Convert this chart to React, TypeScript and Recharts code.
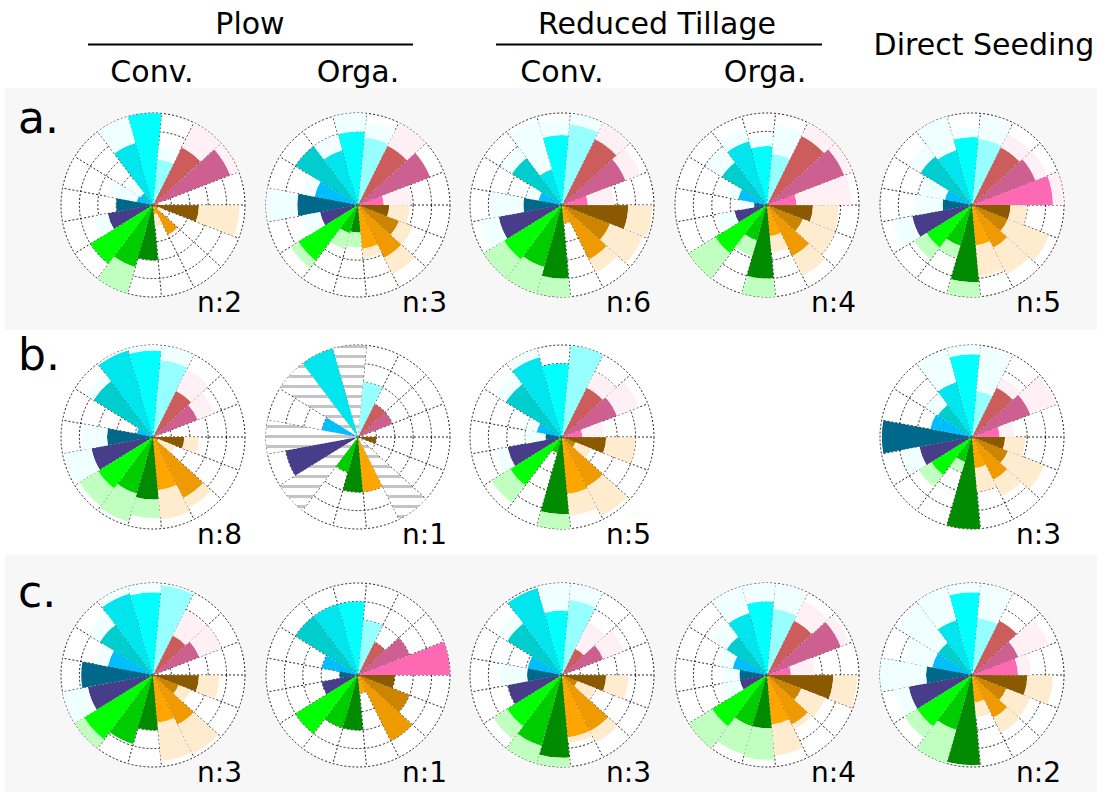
import { RadialBarChart, RadialBar, PolarAngleAxis, PolarRadiusAxis, PolarGrid, Cell } from 'recharts';

// 17 sectors, counter-clockwise from east
const sectors = ['S1', 'S2', 'S3', 'S4', 'S5', 'S6', 'S7', 'S8', 'S9', 'S10', 'S11', 'S12', 'S13', 'S14', 'S15', 'S16', 'S17'];

const strongColors = [
  '#ff69b4', '#cd6090', '#cd5c5c', '#97ffff', '#00ffff', '#00e5ee', '#00cdcd', '#00bfff', '#00688b',
  '#483d8b', '#00ff00', '#00cd00', '#008b00', '#ffa500', '#ee9a00', '#cd8500', '#8b5a00',
];
const paleColors = [
  '#fff0f5', '#fff0f5', '#fff0f5', '#f0ffff', '#f0ffff', '#f0ffff', '#f0ffff', '#f0ffff', '#f0ffff',
  '#f0ffff', '#c1ffc1', '#c1ffc1', '#c1ffc1', '#ffebcd', '#ffebcd', '#ffebcd', '#ffebcd',
];

// a. row
const aPlowConv = [0.3, 4.5, 3.5, 2.5, 5.0, 3.5, 0.8, 0.9, 2.0, 2.5, 4.0, 3.5, 3.0, 0.5, 1.8, 0.3, 2.5];
const aPlowConvHigh = [0.6, 5.3, 5.3, 3.2, 5.0, 5.5, 1.7, 2.5, 2.0, 3.3, 4.0, 5.5, 3.0, 1.2, 1.8, 0.6, 4.7];
const aPlowOrga = [1.4, 4.2, 3.6, 3.7, 4.0, 3.1, 4.0, 2.4, 3.3, 2.1, 3.8, 1.6, 1.5, 2.4, 3.2, 2.4, 1.7];
const aPlowOrgaHigh = [2.9, 4.2, 5.3, 4.5, 5.0, 4.0, 4.0, 3.1, 5.5, 3.1, 4.3, 2.5, 2.3, 2.9, 4.2, 3.2, 2.8];
const aRtConv = [1.4, 3.7, 4.0, 4.4, 3.8, 2.0, 3.2, 1.3, 2.1, 3.5, 3.7, 3.5, 4.0, 1.0, 3.3, 2.8, 3.6];
const aRtConvHigh = [2.8, 4.6, 5.1, 5.0, 4.6, 4.8, 3.9, 2.0, 3.9, 4.5, 5.2, 5.3, 5.1, 1.0, 4.1, 4.7, 4.9];
const aRtOrga = [1.6, 4.5, 4.2, 2.8, 3.2, 3.6, 2.9, 1.6, 0.7, 1.8, 3.3, 2.0, 4.0, 1.7, 3.1, 2.1, 2.5];
const aRtOrgaHigh = [4.6, 5.2, 5.3, 4.4, 3.7, 4.3, 3.9, 2.2, 1.5, 2.8, 5.0, 2.9, 5.1, 2.6, 4.3, 4.0, 3.9];
const aDirect = [4.4, 3.7, 3.5, 3.6, 3.7, 3.1, 3.3, 1.5, 1.6, 3.3, 2.9, 2.3, 4.2, 2.2, 2.6, 2.1, 2.1];
const aDirectHigh = [5.7, 4.4, 4.3, 4.8, 4.2, 5.1, 4.1, 2.8, 3.1, 4.4, 3.7, 3.0, 5.3, 3.9, 4.2, 4.5, 3.0];

// b. row
const bPlowConv = [0.2, 2.6, 2.8, 4.2, 4.7, 4.9, 3.8, 0.9, 2.5, 3.4, 3.5, 3.2, 3.4, 2.9, 3.7, 0.3, 1.7];
const bPlowConvHigh = [0.3, 3.6, 4.1, 5.5, 5.2, 5.3, 4.3, 0.9, 3.8, 4.9, 4.7, 4.8, 4.4, 4.5, 4.3, 1.3, 2.5];
const bPlowOrga = [0, 2, 2, 3, 0, 5, 0, 2, 0, 4, 0, 2, 3, 3, 0, 0, 1];
const bPlowOrgaMissing = [0, 0, 0, 0, 5, 0, 5, 0, 5, 0, 5, 0, 0, 0, 5, 0, 0];
const bRtConv = [1.1, 3.2, 3.0, 5.2, 4.0, 4.5, 3.6, 1.4, 0.9, 3.0, 3.3, 0.9, 4.2, 3.1, 3.0, 0.8, 2.4];
const bRtConvHigh = [2.3, 4.5, 4.0, 5.6, 4.0, 5.3, 4.3, 2.0, 2.0, 3.7, 4.5, 0.9, 5.2, 4.3, 4.8, 1.7, 4.0];
const bDirect = [1.5, 3.4, 3.0, 2.5, 4.5, 3.1, 2.2, 2.3, 4.9, 2.9, 2.6, 1.4, 5.0, 1.7, 2.6, 2.1, 1.8];
const bDirectHigh = [2.3, 4.9, 3.6, 4.9, 5.2, 4.9, 3.0, 2.3, 4.9, 3.9, 3.4, 2.0, 5.0, 3.0, 3.6, 4.2, 2.9];

// c. row
const cPlowConv = [0.1, 2.7, 2.4, 4.9, 4.5, 4.6, 3.4, 2.5, 3.9, 3.6, 4.4, 3.9, 3.0, 2.6, 3.0, 1.5, 2.5];
const cPlowConvHigh = [0.1, 4.0, 3.9, 5.5, 5.2, 5.2, 4.2, 3.2, 3.9, 5.0, 5.1, 3.9, 3.0, 4.7, 4.8, 2.2, 3.6];
const cPlowOrga = [5, 3, 2, 3, 4, 4, 4, 2, 1, 2, 4, 3, 3, 1, 4, 3, 2];
const cRtConv = [0, 2.4, 1.6, 4.1, 3.5, 4.9, 3.5, 1.9, 1.9, 3.0, 3.5, 4.0, 4.5, 3.4, 3.4, 0.9, 2.4];
const cRtConvHigh = [0, 3.6, 3.2, 5.0, 5.5, 4.9, 4.2, 1.9, 3.4, 3.0, 4.4, 5.3, 5.2, 3.7, 4.1, 2.0, 3.6];
const cRtOrga = [1.3, 4.3, 3.3, 3.6, 4.0, 3.5, 2.6, 1.9, 1.5, 1.5, 3.5, 2.9, 2.9, 2.7, 3.0, 2.0, 3.6];
const cRtOrgaHigh = [2.6, 4.8, 4.5, 5.4, 5.0, 5.7, 3.6, 2.7, 2.4, 2.5, 5.5, 4.5, 4.6, 4.4, 3.3, 3.4, 4.9];
const cDirect = [2.5, 2.7, 3.3, 3.1, 4.5, 3.1, 2.2, 2.2, 2.5, 3.5, 3.5, 3.1, 4.9, 1.5, 2.6, 2.0, 3.0];
const cDirectHigh = [3.2, 4.5, 3.3, 5.9, 5.2, 5.9, 4.8, 3.7, 6.1, 4.3, 4.3, 5.8, 4.9, 2.3, 3.5, 3.4, 4.4];

const R = 92;
const BOX = 250;
const FONT = "'DejaVu Sans', Verdana, sans-serif";

type RoseProps = {
  cx: number;
  cy: number;
  mean: number[];
  high?: number[];
  n: number;
  hatched?: boolean;
};

const Rose = ({ cx, cy, mean, high, n, hatched }: RoseProps) => {
  const data = sectors.map((s, i) => ({
    sector: s,
    mean: mean[i],
    extra: high ? Math.max(0, high[i] - mean[i]) : 0,
  }));
  const step = 360 / sectors.length;
  const angles = sectors.map((_, i) => i * step);
  const rings = [1, 2, 3, 4, 5].map((k) => (R * k) / 5);
  return (
    <div style={{ position: 'absolute', left: cx - BOX / 2, top: cy - BOX / 2, width: BOX, height: BOX }}>
      <div
        style={{
          position: 'absolute',
          left: BOX / 2 - R,
          top: BOX / 2 - R,
          width: 2 * R,
          height: 2 * R,
          borderRadius: '50%',
          background: '#fff',
        }}
      />
      <div style={{ position: 'absolute', left: 0, top: 0 }}>
        {/* recharts puts a category one band before its slot on the angle axis, so the range starts one step later */}
        <RadialBarChart
          width={BOX}
          height={BOX}
          data={data}
          cx={BOX / 2}
          cy={BOX / 2}
          innerRadius={0}
          outerRadius={R}
          startAngle={step}
          endAngle={360 + step}
          layout="centric"
          barCategoryGap="0%"
          barGap={0}
          margin={{ top: 0, right: 0, bottom: 0, left: 0 }}
        >
          <PolarGrid
            gridType="circle"
            polarAngles={angles}
            polarRadius={rings}
            stroke="#222"
            strokeDasharray="2 2"
            strokeWidth={1}
          />
          <PolarAngleAxis type="category" dataKey="sector" tick={false} axisLine={false} />
          <PolarRadiusAxis type="number" domain={[0, 5]} allowDataOverflow tick={false} axisLine={false} />
          <RadialBar dataKey="mean" stackId="s" isAnimationActive={false}>
            {data.map((d, i) => (
              <Cell key={d.sector} fill={strongColors[i]} />
            ))}
          </RadialBar>
          <RadialBar dataKey="extra" stackId="s" isAnimationActive={false}>
            {data.map((d, i) => (
              <Cell key={d.sector} fill={hatched ? 'url(#hatch)' : paleColors[i]} />
            ))}
          </RadialBar>
        </RadialBarChart>
      </div>
      <div
        style={{
          position: 'absolute',
          left: BOX / 2 + 44,
          top: BOX / 2 + 84,
          fontFamily: FONT,
          fontSize: 28,
          lineHeight: '28px',
          color: '#000',
          whiteSpace: 'nowrap',
        }}
      >
        n:{n}
      </div>
    </div>
  );
};

const cols = [153, 358, 562, 767, 972];
const rows = [205, 437, 675];

export default function App() {
  return (
    <div style={{ position: 'absolute', left: 0, top: 0, width: 1108, height: 798, background: '#fff', overflow: 'hidden' }}>
      <svg width={1108} height={798} style={{ position: 'absolute', left: 0, top: 0 }} fontFamily={FONT}>
        <defs>
          <pattern id="hatch" width={10} height={10} patternUnits="userSpaceOnUse">
            <rect width={10} height={10} fill="#fff" />
            <rect y={3} width={10} height={3} fill="#c4c4c4" />
          </pattern>
        </defs>
        <rect x={5} y={88} width={1092} height={242} fill="#f7f7f7" />
        <rect x={5} y={555} width={1092} height={237} fill="#f7f7f7" />
        <text x={250} y={34} fontSize={30} textAnchor="middle">Plow</text>
        <line x1={88} y1={44.5} x2={413} y2={44.5} stroke="#000" strokeWidth={2} />
        <text x={657} y={34} fontSize={30} textAnchor="middle">Reduced Tillage</text>
        <line x1={496} y1={44.5} x2={822} y2={44.5} stroke="#000" strokeWidth={2} />
        <text x={984} y={55} fontSize={30} textAnchor="middle">Direct Seeding</text>
        <text x={152} y={82} fontSize={30} textAnchor="middle">Conv.</text>
        <text x={358} y={82} fontSize={30} textAnchor="middle">Orga.</text>
        <text x={562} y={82} fontSize={30} textAnchor="middle">Conv.</text>
        <text x={765} y={82} fontSize={30} textAnchor="middle">Orga.</text>
        <text x={18} y={133} fontSize={44}>a.</text>
        <text x={18} y={370} fontSize={44}>b.</text>
        <text x={18} y={607} fontSize={44}>c.</text>
      </svg>

      <Rose cx={cols[0]} cy={rows[0]} mean={aPlowConv} high={aPlowConvHigh} n={2} />
      <Rose cx={cols[1]} cy={rows[0]} mean={aPlowOrga} high={aPlowOrgaHigh} n={3} />
      <Rose cx={cols[2]} cy={rows[0]} mean={aRtConv} high={aRtConvHigh} n={6} />
      <Rose cx={cols[3]} cy={rows[0]} mean={aRtOrga} high={aRtOrgaHigh} n={4} />
      <Rose cx={cols[4]} cy={rows[0]} mean={aDirect} high={aDirectHigh} n={5} />

      <Rose cx={cols[0]} cy={rows[1]} mean={bPlowConv} high={bPlowConvHigh} n={8} />
      <Rose cx={cols[1]} cy={rows[1]} mean={bPlowOrga} high={bPlowOrgaMissing} n={1} hatched />
      <Rose cx={cols[2]} cy={rows[1]} mean={bRtConv} high={bRtConvHigh} n={5} />
      <Rose cx={cols[4]} cy={rows[1]} mean={bDirect} high={bDirectHigh} n={3} />

      <Rose cx={cols[0]} cy={rows[2]} mean={cPlowConv} high={cPlowConvHigh} n={3} />
      <Rose cx={cols[1]} cy={rows[2]} mean={cPlowOrga} n={1} />
      <Rose cx={cols[2]} cy={rows[2]} mean={cRtConv} high={cRtConvHigh} n={3} />
      <Rose cx={cols[3]} cy={rows[2]} mean={cRtOrga} high={cRtOrgaHigh} n={4} />
      <Rose cx={cols[4]} cy={rows[2]} mean={cDirect} high={cDirectHigh} n={2} />
    </div>
  );
}
